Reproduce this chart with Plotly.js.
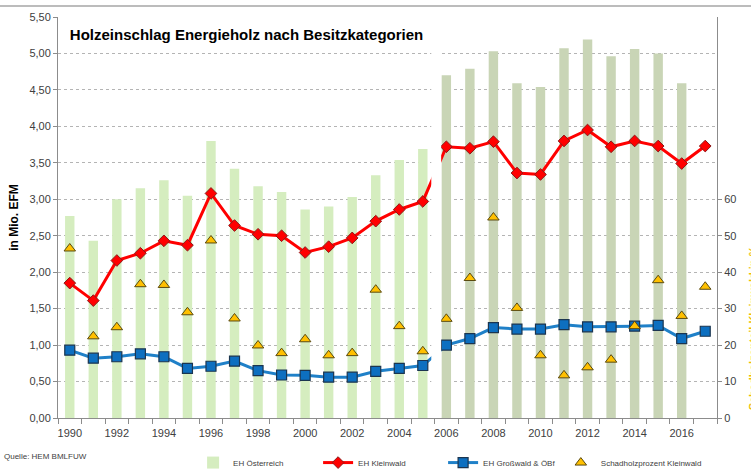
<!DOCTYPE html>
<html>
<head>
<meta charset="utf-8">
<script src="https://cdn.plot.ly/plotly-3.0.1.min.js"></script>
<style>html,body{margin:0;padding:0;background:#fff;}#chart{width:751px;height:472px;}</style>
</head>
<body>
<div id="chart"></div>
<script>
const years = [1990,1991,1992,1993,1994,1995,1996,1997,1998,1999,2000,2001,2002,2003,2004,2005,2006,2007,2008,2009,2010,2011,2012,2013,2014,2015,2016,2017];
const ehOesterreich = [2.77,2.43,3.00,3.15,3.26,3.05,3.80,3.42,3.18,3.10,2.86,2.90,3.03,3.33,3.54,3.69,4.70,4.79,5.03,4.59,4.54,5.07,5.19,4.96,5.06,5.00,4.59,null];
const ehKleinwald = [1.85,1.61,2.16,2.26,2.43,2.37,3.08,2.64,2.52,2.50,2.27,2.35,2.47,2.70,2.86,2.97,3.72,3.70,3.79,3.36,3.34,3.80,3.95,3.72,3.80,3.73,3.49,3.73];
const ehGrosswald = [0.93,0.82,0.84,0.88,0.84,0.68,0.71,0.78,0.65,0.59,0.585,0.56,0.56,0.64,0.68,0.72,1.00,1.09,1.24,1.22,1.22,1.28,1.25,1.25,1.26,1.27,1.09,1.19];
const schadholz = [46.5,22.4,24.9,36.7,36.5,29.0,48.7,27.3,19.9,17.8,21.6,17.2,17.8,35.2,25.2,18.3,27.2,38.4,55.0,30.2,17.2,11.7,13.9,16.0,25.2,37.8,28.0,36.0];
const yTicks = [0,0.5,1,1.5,2,2.5,3,3.5,4,4.5,5,5.5];
const y2Ticks = [0,10,20,30,40,50,60];
const xTicks = [1990,1992,1994,1996,1998,2000,2002,2004,2006,2008,2010,2012,2014,2016];

const barColors = years.map(y => y <= 2005 ? '#d5edbf' : '#c9d5b6');
const FONT = 'Liberation Sans, Arial, sans-serif';

const traces = [
  {type:'bar', name:'EH Österreich', x:years, y:ehOesterreich, width:0.4,
   marker:{color:barColors, line:{width:0}}, hoverinfo:'skip'},
  {type:'scatter', mode:'lines+markers', name:'EH Kleinwald', x:years, y:ehKleinwald,
   line:{color:'#ff0000', width:3},
   marker:{symbol:'diamond', size:9, color:'#ff0000', line:{color:'#8b1a1a', width:1}}},
  {type:'scatter', mode:'lines+markers', name:'EH Großwald & ÖBf', x:years, y:ehGrosswald,
   line:{color:'#1f80c8', width:3},
   marker:{symbol:'square', size:10, color:'#0d6fc0', line:{color:'#1b3550', width:1.2}}},
  {type:'scatter', mode:'markers', name:'Schadholzprozent Kleinwald', x:years, y:schadholz, yaxis:'y2', legend:'legend2',
   marker:{symbol:'triangle-up', size:10, color:'#ffc000', line:{color:'#5a4a10', width:1}}}
];

const layout = {
  width:751, height:472,
  margin:{l:58, r:34, t:17, b:54, autoexpand:false},
  paper_bgcolor:'#ffffff', plot_bgcolor:'#ffffff',
  separators:',.',
  font:{family:FONT, color:'#404040', size:11},
  showlegend:true,
  title:{text:'<b>Holzeinschlag Energieholz nach Besitzkategorien</b>', font:{family:FONT, size:15, color:'#000'},
         x:0.018, xref:'paper', xanchor:'left', y:1-35/472, yref:'container', yanchor:'middle'},
  xaxis:{range:[1989.5,2017.5], tickvals:xTicks, ticks:'', showgrid:false, zeroline:false,
         showline:true, linecolor:'#8c8c8c', linewidth:1, ticklabelstandoff:5,
         minor:{tick0:1989.5, dtick:1, ticks:'outside', ticklen:5, tickcolor:'#8c8c8c', showgrid:false},
         tickfont:{size:11, color:'#404040'}},
  yaxis:{range:[0,5.5], tickvals:yTicks, tickformat:'.2f', showgrid:true, gridcolor:'#b4b4b4', griddash:'dot', gridwidth:1,
         zeroline:false, showline:true, linecolor:'#8c8c8c', ticks:'outside', ticklen:4, tickcolor:'#8c8c8c',
         title:{text:'<b>in Mio. EFM</b>', font:{size:12, color:'#000'}, standoff:8},
         tickfont:{size:11, color:'#404040'}},
  yaxis2:{range:[0,110], tickvals:y2Ticks, overlaying:'y', side:'right', showgrid:false, zeroline:false,
          showline:true, linecolor:'#8c8c8c', ticks:'outside', ticklen:4, tickcolor:'#8c8c8c',
          tickfont:{size:11, color:'#404040'}},
  legend:{orientation:'h', x:0.205, xanchor:'left', y:-0.075, yanchor:'top', font:{size:8, color:'#404040'},
          entrywidth:80, entrywidthmode:'pixels', itemwidth:30, traceorder:'normal', bgcolor:'rgba(0,0,0,0)'},
  legend2:{orientation:'h', x:0.763, xanchor:'left', y:-0.075, yanchor:'top', font:{size:8, color:'#404040'},
          itemwidth:30, bgcolor:'rgba(0,0,0,0)'},
  shapes:[
    {type:'rect', xref:'x', yref:'paper', x0:2005.36, x1:2005.78, y0:0.003, y1:1.01, fillcolor:'#ffffff', line:{width:0}, layer:'above'},
    {type:'line', xref:'paper', yref:'paper', x0:-0.1, x1:1.06, y0:1+(11/401), y1:1+(11/401), line:{color:'#a6a6a6', width:1.5}}
  ],
  annotations:[
    {text:'Quelle: HEM BMLFUW', xref:'paper', yref:'paper', x:-0.085, y:-0.095, xanchor:'left', yanchor:'middle',
     showarrow:false, font:{size:8, color:'#404040'}},
    {text:'<b>Schadholzanteil Kleinwald in %</b>', xref:'paper', yref:'paper', x:(746-58)/659.6, y:(418-328)/401,
     xanchor:'left', yanchor:'middle', textangle:-90, showarrow:false, font:{size:11, color:'#f0c000'}}
  ]
};

Plotly.newPlot('chart', traces, layout, {displayModeBar:false, staticPlot:true});
</script>
</body>
</html>
